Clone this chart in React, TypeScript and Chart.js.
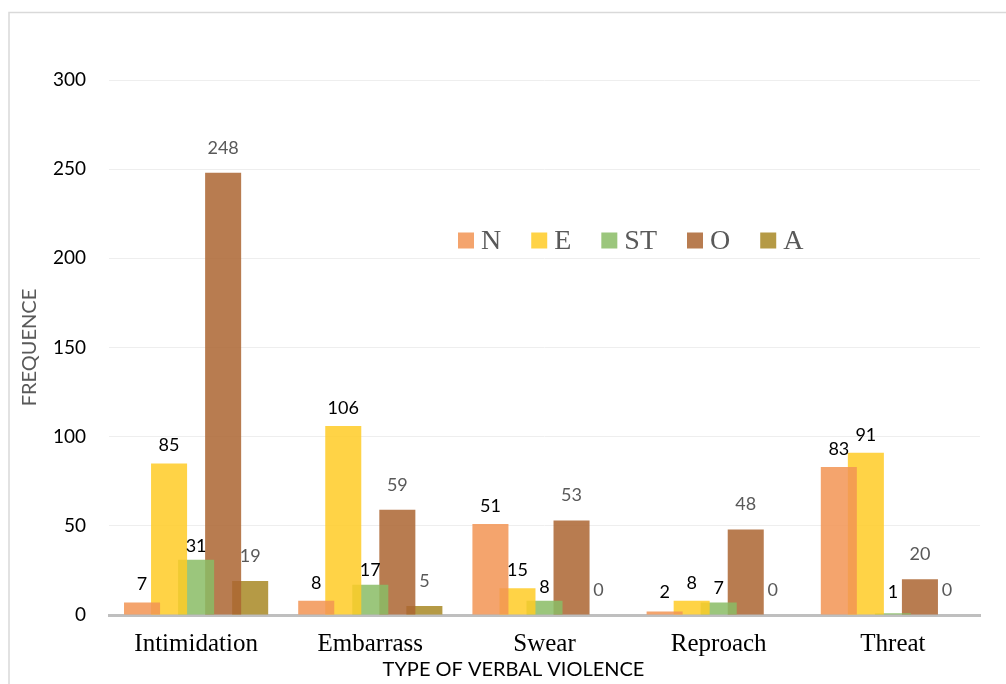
import React, { useEffect, useRef } from 'react';
import { Chart, registerables } from 'chart.js';

Chart.register(...registerables);

const categories = ['Intimidation', 'Embarrass', 'Swear', 'Reproach', 'Threat'];
const seriesNames = ['N', 'E', 'ST', 'O', 'A'];
const nValues = [7, 8, 51, 2, 83];
const eValues = [85, 106, 15, 8, 91];
const stValues = [31, 17, 8, 7, 1];
const oValues = [248, 59, 53, 48, 20];
const aValues = [19, 5, 0, 0, 0];
const yMin = 0;
const yMax = 300;
const yStep = 50;
const xTitle = 'TYPE OF VERBAL VIOLENCE';
const yTitle = 'FREQUENCE';

const seriesValues = [nValues, eValues, stValues, oValues, aValues];
const barColors = [
  'rgba(242,148,84,0.85)',
  'rgba(255,203,38,0.85)',
  'rgba(137,188,101,0.85)',
  'rgba(172,101,49,0.85)',
  'rgba(168,136,37,0.85)',
];
const labelColors = ['#000000', '#000000', '#000000', '#595959', '#595959'];
const labelLift = [18, 18, 14, 25, 25];

const SANS = 'Lato';
const SERIF = '"Liberation Serif"';

const decorPlugin = {
  id: 'decor',
  beforeDraw(chart: any) {
    const ctx = chart.ctx;
    ctx.save();
    ctx.fillStyle = '#ffffff';
    ctx.fillRect(0, 0, chart.width, chart.height);
    ctx.strokeStyle = '#D9D9D9';
    ctx.lineWidth = 1.5;
    ctx.strokeRect(9, 12.5, chart.width + 20, chart.height + 20);
    ctx.restore();
  },
  afterDatasetsDraw(chart: any) {
    const ctx = chart.ctx;
    const area = chart.chartArea;
    const yScale = chart.scales.y;
    const base = yScale.getPixelForValue(0);
    ctx.save();
    // value labels
    ctx.font = `18px ${SANS}`;
    ctx.textAlign = 'center';
    ctx.textBaseline = 'middle';
    chart.data.datasets.forEach((ds: any, i: number) => {
      const meta = chart.getDatasetMeta(i);
      meta.data.forEach((el: any, j: number) => {
        const v = ds.data[j];
        const y = Math.min(el.y - labelLift[i], base - 23);
        ctx.fillStyle = labelColors[i];
        ctx.fillText(String(v), el.x, y);
      });
    });
    // legend
    ctx.font = `28px ${SERIF}`;
    ctx.textAlign = 'left';
    ctx.textBaseline = 'middle';
    let x = area.left + 349;
    const ly = yScale.getPixelForValue(210);
    chart.data.datasets.forEach((ds: any, i: number) => {
      ctx.fillStyle = ds.backgroundColor;
      ctx.fillRect(x, ly - 8, 16, 16);
      x += 23;
      ctx.fillStyle = '#595959';
      ctx.fillText(ds.label, x, ly + 1);
      x += ctx.measureText(ds.label).width + 30;
    });
    // axis titles
    ctx.fillStyle = '#000000';
    ctx.font = `20px ${SANS}`;
    ctx.textAlign = 'center';
    ctx.fillText(xTitle, (area.left + area.right) / 2 - 31, 670);
    ctx.translate(30, (area.top + area.bottom) / 2);
    ctx.rotate(-Math.PI / 2);
    ctx.fillStyle = '#595959';
    ctx.font = `20px ${SANS}`;
    ctx.fillText(yTitle, 0, 0);
    ctx.restore();
  },
};

export default function App() {
  const ref = useRef<HTMLCanvasElement | null>(null);
  useEffect(() => {
    if (!ref.current) return;
    const chart = new Chart(ref.current, {
      type: 'bar',
      data: {
        labels: categories,
        datasets: seriesNames.map((name, i) => ({
          label: name,
          data: seriesValues[i],
          backgroundColor: barColors[i],
          borderWidth: 0,
          categoryPercentage: 0.776,
          barPercentage: 1.333,
        })),
      },
      options: {
        animation: false,
        responsive: false,
        devicePixelRatio: 1,
        layout: { padding: { top: 80, right: 26, left: 0, bottom: 0 } },
        plugins: {
          legend: { display: false },
          tooltip: { enabled: false },
          title: { display: false },
        },
        scales: {
          x: {
            grid: { display: false, drawTicks: false },
            border: { display: true, color: '#BFBFBF', width: 3 },
            ticks: {
              color: '#000000',
              font: { family: 'Liberation Serif', size: 25 },
              padding: 14,
            },
            afterFit: (s: any) => {
              s.height = 69;
            },
          },
          y: {
            min: yMin,
            max: yMax,
            ticks: {
              stepSize: yStep,
              color: '#000000',
              font: { family: SANS, size: 19 },
              padding: 23,
            },
            grid: { color: '#EEEEEE', lineWidth: 1, drawTicks: false },
            border: { display: false },
            afterFit: (s: any) => {
              s.width = 109;
            },
          },
        },
      },
      plugins: [decorPlugin],
    });
    return () => chart.destroy();
  }, []);
  return (
    <div style={{ position: 'absolute', left: 0, top: 0, width: 1006, height: 684 }}>
      <canvas ref={ref} width={1006} height={684} />
    </div>
  );
}
